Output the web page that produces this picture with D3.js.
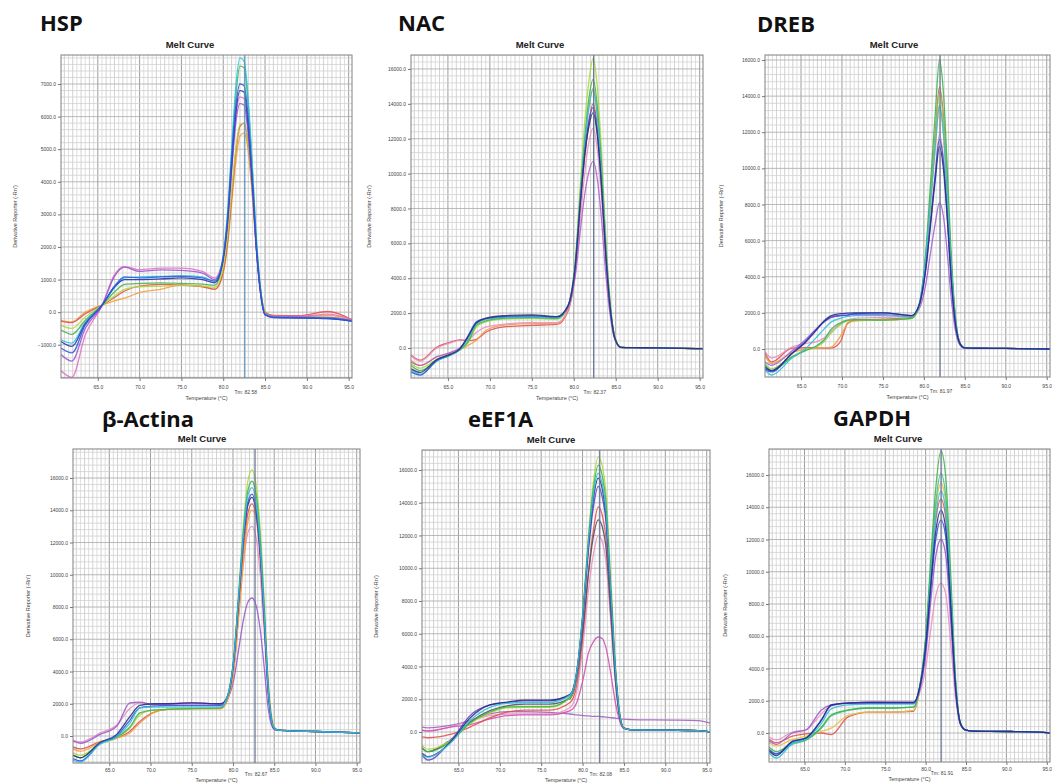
<!DOCTYPE html>
<html><head><meta charset="utf-8">
<script src="https://cdn.jsdelivr.net/npm/d3@7"></script>
<style>html,body{margin:0;padding:0;background:#fff;overflow:hidden}</style>
</head><body><svg id="c" width="1052" height="783"></svg>
<script>
// ---------------- DATA ----------------
const panelNames = ["HSP", "NAC", "DREB", "β-Actina", "eEF1A", "GAPDH"];
const tmValues = [82.58, 82.37, 81.97, 82.67, 82.08, 81.91];
const xDomain = [60.6, 95.4];
const xTickValues = [65, 70, 75, 80, 85, 90, 95];
const yTicksHSP = [7000, 6000, 5000, 4000, 3000, 2000, 1000, 0, -1000];
const yTicksLarge = [16000, 14000, 12000, 10000, 8000, 6000, 4000, 2000, 0];
const yDomains = [[-2020, 7890], [-1720, 16800], [-1551, 16277], [-1674, 17800], [-1893, 17220], [-1798, 17612]];

// HSP
const hspTemps = [60.6, 61.9, 63.5, 65.5, 67, 68.2, 70, 72.5, 75, 77.5, 79, 79.8, 80.5, 81, 81.5, 82, 82.5, 83, 83.5, 84, 84.5, 85, 86, 89, 92.5, 95.4];
const hspColors = ["#f0a040", "#e05050", "#b5d63c", "#4caf50", "#e070c8", "#9955cc", "#26c6da", "#2233aa", "#3355dd"];
const hspCurves = [
  [-250, -300, 0, 220, 350, 430, 600, 700, 830, 800, 700, 1000, 2000, 3300, 4600, 5400, 5500, 4900, 3500, 1800, 600, 0, -110, -120, -100, -230],
  [-280, -320, -50, 215, 450, 650, 800, 850, 830, 780, 700, 1050, 2100, 3500, 4900, 5700, 5800, 5100, 3700, 1850, 600, 0, -100, -110, 20, -230],
  [-400, -500, -150, 215, 500, 700, 780, 800, 820, 800, 760, 1150, 2300, 3700, 5000, 5750, 5800, 5100, 3600, 1850, 600, -30, -130, -140, -150, -240],
  [-550, -680, -250, 215, 620, 850, 880, 900, 880, 860, 830, 1350, 2900, 4800, 6600, 7550, 7500, 6300, 4300, 2100, 650, -50, -150, -160, -180, -260],
  [-1800, -2000, -700, 200, 1150, 1400, 1300, 1350, 1350, 1250, 1050, 1450, 2750, 4400, 6000, 6600, 6550, 5600, 3800, 1850, 520, -50, -120, -130, -60, -230],
  [-1300, -1500, -500, 200, 1100, 1380, 1250, 1300, 1280, 1200, 1000, 1400, 2700, 4300, 5800, 6400, 6350, 5400, 3700, 1800, 500, -60, -140, -150, -160, -250],
  [-850, -950, -300, 215, 750, 1050, 1080, 1100, 1120, 1080, 950, 1450, 3000, 5000, 6900, 7800, 7700, 6500, 4400, 2100, 600, -60, -150, -170, -200, -270],
  [-900, -1050, -350, 210, 780, 1000, 1000, 1020, 1050, 1000, 900, 1350, 2700, 4500, 6100, 6800, 6750, 5700, 3900, 1850, 520, -80, -170, -180, -200, -280],
  [-1100, -1250, -400, 200, 800, 1080, 1050, 1080, 1100, 1050, 950, 1400, 2800, 4700, 6300, 7000, 6950, 5900, 4000, 1900, 550, -80, -160, -170, -190, -270]
];

// NAC
const nacTemps = [60.6, 61.7, 63.7, 65.3, 66.4, 67.4, 68.4, 69.5, 71.5, 75, 78, 79.3, 80.2, 80.8, 81.3, 81.8, 82.3, 82.8, 83.3, 83.8, 84.3, 84.9, 85.6, 87, 90, 95.4];
const nacColors = ["#e05050", "#f0a040", "#e890c0", "#b060c8", "#a8d840", "#3cb44b", "#30c0d8", "#3050e0", "#303070"];
const nacCurves = [
  [-400, -700, 60, 340, 460, 420, 500, 900, 1200, 1300, 1350, 2100, 4500, 8200, 11000, 13000, 14000, 12700, 9600, 5600, 2500, 560, 40, 20, 10, -40],
  [-700, -1000, -500, -300, -100, 150, 450, 1000, 1300, 1400, 1400, 2200, 4700, 8600, 11600, 13800, 14900, 13400, 10200, 5900, 2600, 580, 40, 20, 10, -40],
  [-450, -750, 0, 300, 450, 480, 900, 1200, 1350, 1450, 1450, 2200, 4400, 7500, 10000, 11800, 12600, 11400, 8700, 5100, 2300, 520, 40, 20, 10, -40],
  [-800, -1000, -500, -250, 0, 600, 1400, 1650, 1750, 1750, 1700, 2300, 4200, 6800, 8800, 10100, 10700, 9700, 7400, 4300, 2000, 480, 40, 20, 10, -40],
  [-900, -1150, -650, -380, -100, 300, 1200, 1500, 1650, 1700, 1650, 2400, 5200, 9500, 12900, 15300, 16600, 15000, 11300, 6500, 2900, 650, 50, 20, 10, -50],
  [-1000, -1300, -700, -400, -120, 350, 1300, 1550, 1700, 1750, 1700, 2400, 5000, 9000, 12000, 14300, 15400, 13900, 10500, 6000, 2700, 600, 40, 20, 10, -40],
  [-1300, -1500, -750, -420, -100, 500, 1400, 1650, 1750, 1780, 1720, 2400, 4900, 8800, 11700, 13800, 14800, 13300, 10000, 5800, 2600, 580, 40, 20, 10, -40],
  [-1400, -1550, -700, -380, -80, 700, 1500, 1700, 1800, 1850, 1780, 2400, 4800, 8500, 11200, 13000, 13800, 12400, 9400, 5500, 2500, 560, 40, 20, 10, -40],
  [-1200, -1400, -650, -350, -50, 650, 1450, 1700, 1850, 1900, 1800, 2400, 4800, 8400, 11000, 12700, 13500, 12200, 9300, 5400, 2450, 550, 40, 20, 10, -40]
];

// DREB
const drebTemps = [60.6, 61.4, 63.9, 65.5, 66.8, 67.8, 68.7, 69.8, 70.7, 71.5, 75, 78.5, 79.4, 80.2, 80.8, 81.4, 81.9, 82.4, 82.9, 83.3, 83.8, 84.4, 85.0, 86.5, 90, 95.4];
const drebColors = ["#e05050", "#f0a040", "#e890c0", "#a060d0", "#90d050", "#3cb44b", "#30c0d8", "#3050e0", "#2a2a80"];
const drebCurves = [
  [-220, -720, 50, 80, 60, 50, 60, 400, 1440, 1600, 1650, 1750, 2400, 4900, 8400, 12000, 14500, 12800, 8700, 5100, 1900, 330, 60, 40, 30, 0],
  [-400, -800, -200, 0, 50, 60, 100, 700, 1400, 1550, 1600, 1700, 2350, 4700, 7900, 11200, 13400, 11800, 8000, 4700, 1800, 320, 60, 40, 30, 0],
  [-150, -500, 110, 300, 400, 600, 1000, 1400, 1600, 1700, 1750, 1800, 2400, 4300, 7000, 9800, 11900, 10500, 7200, 4200, 1600, 300, 60, 40, 30, 0],
  [-700, -900, -100, 500, 1100, 1500, 1750, 1850, 1880, 1900, 1900, 1800, 2200, 3500, 5300, 7000, 8100, 7300, 5100, 3000, 1150, 220, 50, 40, 30, 0],
  [-800, -1100, -400, -80, 100, 400, 900, 1350, 1550, 1600, 1600, 1700, 2350, 4800, 8200, 11700, 14200, 12500, 8500, 5000, 1900, 330, 60, 40, 30, 0],
  [-900, -1200, -450, -100, 150, 500, 1100, 1450, 1600, 1620, 1600, 1700, 2400, 5200, 9100, 13100, 16000, 14100, 9600, 5600, 2100, 350, 60, 40, 30, 0],
  [-1160, -1440, -500, 0, 600, 1100, 1500, 1700, 1800, 1850, 1850, 1800, 2450, 5000, 8100, 11300, 13500, 11900, 8100, 4800, 1800, 320, 60, 40, 30, 0],
  [-1100, -1270, -220, 400, 1050, 1500, 1770, 1850, 1880, 1950, 2000, 1850, 2400, 4400, 7000, 9700, 11600, 10300, 7100, 4200, 1600, 300, 60, 40, 30, 0],
  [-1000, -1200, -250, 350, 1000, 1550, 1850, 1950, 1980, 2000, 2000, 1850, 2400, 4300, 6800, 9400, 11200, 9900, 6900, 4000, 1550, 300, 60, 40, 30, 0]
];

// β-Actina
const actTemps = [60.6, 61.5, 63.9, 65.9, 67.5, 68.7, 70.3, 72, 75, 78.5, 79.3, 80.1, 80.7, 81.3, 81.8, 82.3, 82.8, 83.3, 83.7, 84.3, 84.9, 85.4, 87, 90, 95.4];
const actColors = ["#e890c0", "#9955cc", "#e05050", "#f0a040", "#a8d840", "#3cb44b", "#2a2a80", "#3050e0", "#30c0d8"];
const actCurves = [
  [-250, -370, 190, 680, 1700, 2050, 1950, 1950, 2000, 1950, 2350, 4300, 7600, 10900, 12600, 13000, 12300, 10000, 7100, 2400, 520, 360, 320, 280, 200],
  [-300, -450, 100, 600, 2050, 2100, 1950, 2000, 2050, 2000, 2300, 3500, 5400, 7300, 8300, 8560, 8100, 6600, 4700, 1600, 450, 350, 320, 280, 200],
  [-680, -800, -350, -100, 300, 900, 1450, 1650, 1700, 1700, 2200, 4200, 7800, 11600, 13800, 14400, 13600, 11000, 7800, 2600, 530, 360, 320, 280, 200],
  [-800, -950, -400, -150, 190, 800, 1430, 1650, 1700, 1700, 2200, 4000, 7400, 11000, 13300, 14000, 13600, 11500, 8500, 3200, 700, 380, 320, 280, 200],
  [-1050, -1200, -500, -100, 500, 1300, 1600, 1650, 1700, 1750, 2400, 4900, 9000, 13300, 15800, 16500, 15600, 12800, 9200, 3000, 600, 370, 320, 280, 200],
  [-1200, -1350, -430, -60, 560, 1430, 1610, 1650, 1700, 1750, 2400, 4800, 8800, 12900, 15200, 15800, 15000, 12300, 8800, 2900, 580, 370, 320, 280, 200],
  [-1200, -1350, -400, 100, 1200, 1900, 2000, 2000, 2050, 2000, 2420, 4700, 8500, 12300, 14300, 14800, 13900, 11300, 8000, 2650, 540, 360, 320, 280, 200],
  [-1400, -1550, -450, 0, 990, 1750, 1850, 1900, 1900, 1900, 2400, 4800, 8600, 12500, 14500, 15000, 14100, 11500, 8200, 2700, 550, 370, 320, 280, 200],
  [-1490, -1610, -500, -60, 800, 1740, 1800, 1800, 1800, 1800, 2400, 4800, 8700, 12700, 14900, 15400, 14500, 11800, 8400, 2800, 560, 370, 320, 280, 200]
];

// eEF1A
const eefTemps = [60.6, 61.3, 64, 66.4, 68.8, 70.9, 73, 76, 78.5, 79.3, 80.1, 80.7, 81.3, 81.9, 82.4, 82.8, 83.4, 84.0, 84.6, 85.0, 86, 88, 91, 94, 95.4];
const eefColors = ["#a060c0", "#e890c0", "#d050b0", "#e05050", "#505060", "#b0d840", "#3cb44b", "#6040d0", "#2a2a80", "#30c0d8"];
const eefCurves = [
  [300, 250, 400, 700, 1100, 1250, 1250, 1200, 1100, 1050, 1000, 980, 960, 950, 930, 910, 880, 850, 800, 780, 760, 740, 730, 700, 550],
  [120, 80, 300, 700, 1000, 1100, 1100, 1100, 1500, 2500, 5500, 8600, 10800, 12000, 11600, 10500, 6800, 2900, 640, 240, 130, 120, 110, 80, 0],
  [120, 60, 300, 450, 800, 1000, 1040, 1040, 1300, 1800, 3300, 4800, 5500, 5800, 5700, 5200, 3600, 1700, 500, 200, 130, 120, 110, 80, 0],
  [-300, -350, -150, 300, 860, 1220, 1340, 1340, 1800, 2900, 6200, 9700, 12300, 13750, 13200, 12000, 7700, 3200, 680, 240, 130, 120, 110, 80, 0],
  [-1000, -1200, -500, 600, 1300, 1600, 1700, 1700, 2050, 3300, 6500, 9600, 11900, 12950, 12500, 11400, 7300, 3000, 650, 240, 130, 120, 110, 80, 0],
  [-800, -1050, -550, 500, 1150, 1480, 1500, 1500, 2100, 3600, 7700, 11900, 15200, 16800, 16200, 14800, 9500, 3900, 800, 250, 130, 120, 110, 80, 0],
  [-920, -1200, -610, 550, 1220, 1530, 1550, 1550, 2140, 3600, 7600, 11700, 14800, 16300, 15600, 14200, 9000, 3700, 750, 240, 130, 120, 110, 80, 0],
  [-1400, -1710, -600, 1000, 1650, 1800, 1900, 1900, 2250, 3600, 7300, 11000, 13700, 15000, 14300, 13000, 8300, 3400, 700, 240, 130, 120, 110, 80, 0],
  [-1300, -1500, -650, 860, 1650, 1830, 1950, 1950, 2300, 3700, 7500, 11300, 14200, 15500, 14800, 13400, 8500, 3500, 720, 240, 130, 120, 110, 80, 0],
  [-1400, -1530, -700, 700, 1500, 1750, 1800, 1800, 2250, 3700, 7600, 11500, 14500, 15800, 15100, 13700, 8700, 3600, 730, 240, 130, 120, 110, 80, 0]
];

// GAPDH
const gapTemps = [60.6, 61.5, 63.5, 65.2, 67.1, 68.3, 70.4, 73, 76, 78.5, 79.2, 80.0, 80.6, 81.2, 81.9, 82.5, 83.1, 83.7, 84.3, 84.9, 86, 88, 91, 94, 95.4];
const gapColors = ["#e05050", "#e8c040", "#e890c0", "#9955cc", "#40c090", "#3cb44b", "#30c0d8", "#3050e0", "#2a2a80"];
const gapCurves = [
  [-400, -600, -200, -50, 0, -100, 1000, 1300, 1300, 1350, 2500, 5500, 9500, 13000, 14500, 13300, 8400, 3000, 610, 190, 110, 100, 90, 60, 0],
  [-600, -800, -400, -200, 100, 300, 1100, 1300, 1300, 1400, 2550, 5700, 9800, 13700, 15500, 14200, 8900, 3200, 620, 190, 110, 100, 90, 60, 0],
  [-250, -430, 60, 190, 1200, 1700, 1850, 1920, 1920, 1900, 2400, 4000, 6300, 8400, 9300, 8600, 5600, 2200, 520, 190, 110, 100, 90, 60, 0],
  [-500, -700, 0, 200, 1430, 1740, 1850, 1920, 1900, 1900, 2550, 4800, 8000, 10800, 12000, 11000, 7000, 2600, 570, 190, 110, 100, 90, 60, 0],
  [-1000, -1300, -700, -450, 300, 1050, 1400, 1550, 1550, 1600, 2650, 5800, 10000, 14000, 16100, 14600, 9200, 3200, 630, 190, 110, 100, 90, 60, 0],
  [-870, -1150, -620, -400, 370, 1120, 1430, 1550, 1550, 1600, 2700, 6000, 10500, 14900, 17500, 15800, 9900, 3400, 650, 190, 110, 100, 90, 60, 0],
  [-1240, -1550, -650, -350, 600, 1500, 1750, 1800, 1800, 1800, 2700, 5600, 9500, 13200, 15000, 13700, 8700, 3100, 620, 190, 110, 100, 90, 60, 0],
  [-1000, -1300, -550, -300, 810, 1700, 1850, 1850, 1850, 1850, 2650, 5200, 8700, 11800, 13200, 12100, 7700, 2800, 590, 190, 110, 100, 90, 60, 0],
  [-1100, -1400, -500, -310, 810, 1740, 1860, 1900, 1900, 1900, 2700, 5400, 9000, 12300, 13800, 12600, 8000, 2900, 600, 190, 110, 100, 90, 60, 0]
];

const panelTemps = [hspTemps, nacTemps, drebTemps, actTemps, eefTemps, gapTemps];
const panelCurves = [hspCurves, nacCurves, drebCurves, actCurves, eefCurves, gapCurves];
const panelColors = [hspColors, nacColors, drebColors, actColors, eefColors, gapColors];
const panelYTicks = [yTicksHSP, yTicksLarge, yTicksLarge, yTicksLarge, yTicksLarge, yTicksLarge];

// ---------------- LAYOUT ----------------
const plotRects = [
  {l: 61, r: 352, t: 55, b: 378},
  {l: 411, r: 703, t: 55, b: 378},
  {l: 765, r: 1050, t: 55, b: 377},
  {l: 73, r: 360, t: 449, b: 763},
  {l: 422, r: 710, t: 450, b: 763},
  {l: 769, r: 1050, t: 449, b: 762}
];
const titlePos = [[40, 31], [398, 31], [757, 32], [102, 427], [468, 427], [833, 426]];
const yTitleX = [17, 371, 723, 30, 378, 727];

const svg = d3.select("#c");
const defs = svg.append("defs");
svg.append("rect").attr("width", 1052).attr("height", 783).attr("fill", "#fff");

panelNames.forEach((name, i) => {
  const r = plotRects[i];
  const topRow = i < 3;
  const g = svg.append("g");
  const x = d3.scaleLinear().domain(xDomain).range([r.l, r.r]);
  const y = d3.scaleLinear().domain(yDomains[i]).range([r.b, r.t]);

  defs.append("clipPath").attr("id", "cp" + i).append("rect")
    .attr("x", r.l).attr("y", r.t).attr("width", r.r - r.l).attr("height", r.b - r.t);

  g.append("rect").attr("x", r.l).attr("y", r.t).attr("width", r.r - r.l).attr("height", r.b - r.t).attr("fill", "#fff");

  // grid
  const grid = g.append("g").attr("clip-path", `url(#cp${i})`);
  const vMinor = d3.range(0, 70).map(k => 61 + k * 0.5).filter(t => t < xDomain[1]);
  grid.selectAll("line.vm").data(vMinor).join("line")
    .attr("x1", d => x(d)).attr("x2", d => x(d)).attr("y1", r.t).attr("y2", r.b)
    .attr("stroke", d => (d % 5 === 0) ? "#9c9c9c" : (d % 1 === 0 ? "#c6c6c6" : "#d6d6d6"))
    .attr("stroke-width", d => (d % 5 === 0) ? 1 : 0.8);
  const ticks = panelYTicks[i];
  const step = ticks[0] - ticks[1];
  const minor = step / 5;
  const kStart = Math.ceil(yDomains[i][0] / minor), kEnd = Math.floor(yDomains[i][1] / minor);
  const hMinor = d3.range(kStart, kEnd + 1).map(k => k * minor);
  grid.selectAll("line.hm").data(hMinor).join("line")
    .attr("x1", r.l).attr("x2", r.r).attr("y1", d => y(d)).attr("y2", d => y(d))
    .attr("stroke", d => (Math.abs(d % step) < 1e-6) ? "#a8a8a8" : "#d0d0d0")
    .attr("stroke-width", 0.8);

  // curves
  const temps = panelTemps[i];
  const line = d3.line().x((d, k) => x(temps[k])).y(d => y(d)).curve(d3.curveMonotoneX);
  g.append("g").attr("clip-path", `url(#cp${i})`)
    .selectAll("path").data(panelCurves[i]).join("path")
    .attr("d", d => line(d))
    .attr("fill", "none")
    .attr("stroke", (d, k) => panelColors[i][k])
    .attr("stroke-width", 1.3)
    .attr("stroke-opacity", 0.88);

  // Tm line
  g.append("line").attr("x1", x(tmValues[i])).attr("x2", x(tmValues[i]))
    .attr("y1", r.t).attr("y2", r.b)
    .attr("stroke", i === 0 ? "#5a8fb8" : "#65708e").attr("stroke-width", 1.2);

  // border
  g.append("rect").attr("x", r.l).attr("y", r.t).attr("width", r.r - r.l).attr("height", r.b - r.t)
    .attr("fill", "none").attr("stroke", "#808080").attr("stroke-width", 1);

  const fam = "Liberation Sans, Arial, sans-serif";
  const ya = g.append("g").attr("transform", `translate(${r.l},0)`)
    .call(d3.axisLeft(y).tickValues(ticks).tickFormat(d3.format(".1f")).tickSize(3).tickPadding(2));
  ya.select(".domain").remove();
  ya.selectAll("text").attr("font-size", 5).attr("font-family", fam).attr("fill", "#444");
  ya.selectAll("line").attr("stroke", "#777");

  const xa = g.append("g").attr("transform", `translate(0,${r.b})`)
    .call(d3.axisBottom(x).tickValues(xTickValues).tickFormat(d3.format(".1f")).tickSize(3).tickPadding(topRow ? 4.5 : 2.5));
  xa.select(".domain").remove();
  xa.selectAll("text").attr("font-size", 5).attr("font-family", fam).attr("fill", "#444");
  xa.selectAll("line").attr("stroke", "#777");

  g.append("text").attr("x", x(tmValues[i]) + 1).attr("y", topRow ? r.b + 16 : r.b + 13)
    .attr("text-anchor", "middle").attr("font-size", 5).attr("font-family", fam).attr("fill", "#444")
    .text("Tm: " + tmValues[i].toFixed(2));
  g.append("text").attr("x", (r.l + r.r) / 2).attr("y", topRow ? r.b + 22 : r.b + 19)
    .attr("text-anchor", "middle").attr("font-size", 5.5).attr("font-family", fam).attr("fill", "#444")
    .text("Temperature (°C)");
  g.append("text").attr("transform", `translate(${yTitleX[i]},${(r.t + r.b) / 2}) rotate(-90)`)
    .attr("text-anchor", "middle").attr("font-size", 5.5).attr("font-family", fam).attr("fill", "#444")
    .text("Derivative Reporter (-Rn')");
  g.append("text").attr("x", r.l + 129).attr("y", r.t - 7)
    .attr("text-anchor", "middle").attr("font-size", 9.5).attr("font-weight", "bold")
    .attr("font-family", fam).attr("fill", "#222")
    .text("Melt Curve");
  g.append("text").attr("x", titlePos[i][0]).attr("y", titlePos[i][1])
    .attr("font-size", 22).attr("font-weight", "bold").attr("font-family", "Open Sans, sans-serif").attr("fill", "#111")
    .text(name);
});
</script>
</body></html>
